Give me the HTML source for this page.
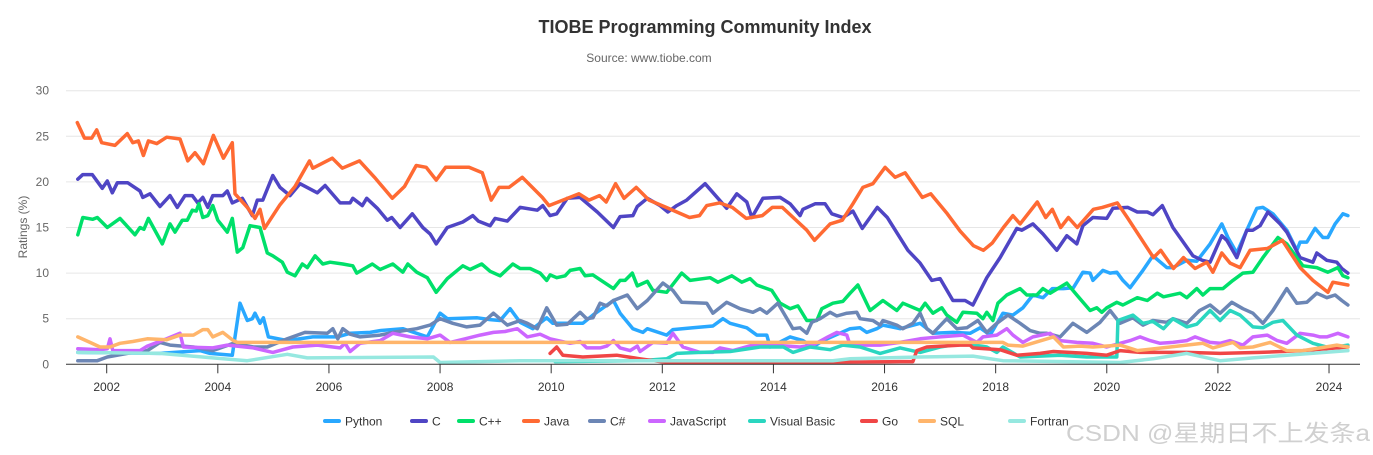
<!DOCTYPE html>
<html><head><meta charset="utf-8"><style>
html,body{margin:0;padding:0;background:#fff;}
#wrap{position:relative;width:1373px;height:455px;overflow:hidden;background:#fff;}
svg text{font-family:"Liberation Sans",Arial,sans-serif;}
</style></head><body>
<div id="wrap">
<svg id="chart" width="1373" height="455" xmlns="http://www.w3.org/2000/svg">
<text x="705" y="33" text-anchor="middle" font-size="18" font-weight="bold" fill="#333">TIOBE Programming Community Index</text>
<text x="649" y="62" text-anchor="middle" font-size="12" fill="#666">Source: www.tiobe.com</text>
<text transform="translate(27,227) rotate(-90)" text-anchor="middle" font-size="12" fill="#666">Ratings (%)</text>
<g id="grid"></g>
<g id="series"></g>
<g id="axes"></g>
<g id="legend"></g>
<text x="1066" y="441" textLength="304" lengthAdjust="spacingAndGlyphs" font-size="23" fill="#d0d0d0" style='font-family:"Liberation Sans","Noto Sans CJK SC",sans-serif'>CSDN @星期日不上发条a</text>
</svg>
</div>
<script>
const yTicks = [0,5,10,15,20,25,30];
const xTicks = [2002,2004,2006,2008,2010,2012,2014,2016,2018,2020,2022,2024];
const seriesNames = ["Python","C","C++","Java","C#","JavaScript","Visual Basic","Go","SQL","Fortran"];
const seriesColors = ["#29a8ff","#4f45c4","#00e06a","#ff6a33","#6c86b5","#cc66ff","#2ad6c0","#f04646","#ffb56b","#96e8e0"];

const python = [[2001.48,1.3],[2002.96,1.2],[2003.68,1.5],[2003.86,1.2],[2004.26,1.0],[2004.4,6.7],[2004.53,4.8],[2004.62,5.0],[2004.67,5.6],[2004.76,4.5],[2004.82,5.1],[2004.91,3],[2005.25,2.6],[2005.71,3],[2006.15,3],[2006.38,3.4],[2006.74,3.5],[2006.92,3.7],[2007.33,3.9],[2007.77,3],[2008.0,5.6],[2008.13,5],[2008.67,5.1],[2008.9,4.9],[2009.08,4.8],[2009.26,6.1],[2009.44,4.6],[2009.67,3.9],[2009.92,5.1],[2010.03,4.5],[2010.57,4.5],[2010.75,5.4],[2011.12,7],[2011.24,5.6],[2011.47,3.9],[2011.65,3.5],[2011.73,3.9],[2012.08,3.2],[2012.19,3.8],[2012.55,4],[2012.91,4.2],[2013.09,5],[2013.22,4.5],[2013.52,4],[2013.7,3.2],[2013.88,3.2],[2013.94,1.9],[2014.3,3],[2014.53,2.6],[2014.71,1.9],[2014.89,2.6],[2015.38,3.9],[2015.56,4],[2015.68,3.5],[2015.86,3.9],[2015.97,4.3],[2016.28,3.9],[2016.64,4.5],[2016.87,3.4],[2017.23,3.5],[2017.54,3.4],[2017.72,4],[2017.9,3.2],[2018.13,5.6],[2018.31,5.4],[2018.49,6.2],[2018.67,7.6],[2018.85,7.3],[2019.02,8.3],[2019.22,8.3],[2019.4,8.4],[2019.57,10.1],[2019.7,10],[2019.75,9.2],[2019.93,10.3],[2020.06,10],[2020.18,10.1],[2020.29,9.2],[2020.42,8.4],[2020.65,10.3],[2020.83,11.9],[2021.08,10.6],[2021.19,10.6],[2021.44,11.4],[2021.62,11.3],[2021.86,13.2],[2022.07,15.4],[2022.18,13.9],[2022.34,12.2],[2022.52,14.7],[2022.7,17.1],[2022.81,17.2],[2022.99,16.5],[2023.24,14.7],[2023.42,12.5],[2023.48,13.4],[2023.6,13.4],[2023.75,14.9],[2023.89,13.9],[2023.98,13.9],[2024.11,15.4],[2024.25,16.5],[2024.34,16.3]];
const cLang = [[2001.48,20.3],[2001.57,20.8],[2001.74,20.8],[2001.92,19.3],[2002.01,20.1],[2002.1,18.8],[2002.19,19.9],[2002.38,19.9],[2002.6,19],[2002.65,18.3],[2002.78,18.7],[2002.96,17.3],[2003.14,18.5],[2003.27,17.2],[2003.41,18.5],[2003.54,18.5],[2003.64,17.7],[2003.73,18.3],[2003.82,17.2],[2003.91,18.5],[2004.09,18.5],[2004.17,19],[2004.26,17.7],[2004.44,18.2],[2004.62,16.3],[2004.71,18],[2004.81,18],[2004.99,20.7],[2005.12,19.4],[2005.3,18.5],[2005.48,19.8],[2005.79,18.8],[2005.93,19.6],[2006.2,17.7],[2006.38,17.7],[2006.43,18.2],[2006.6,17.4],[2006.68,18.2],[2006.87,17.1],[2007.05,15.8],[2007.13,16.1],[2007.28,15],[2007.5,16.5],[2007.69,15],[2007.82,14.3],[2007.93,13.2],[2008.13,15],[2008.41,15.6],[2008.59,16.3],[2008.69,15.7],[2008.9,15.2],[2008.99,16],[2009.21,15.7],[2009.44,17.2],[2009.75,16.9],[2009.85,17.4],[2009.98,16.3],[2010.1,16.5],[2010.29,18.2],[2010.52,18.3],[2010.83,16.7],[2011.12,15],[2011.24,16.2],[2011.47,16.3],[2011.55,17.3],[2011.73,18.2],[2011.96,17.4],[2012.1,16.7],[2012.26,17.4],[2012.44,18],[2012.77,19.8],[2013.16,17.1],[2013.34,18.7],[2013.52,17.8],[2013.61,16.1],[2013.81,18.2],[2014.12,18.3],[2014.3,17.6],[2014.48,16.3],[2014.53,17],[2014.75,17.6],[2014.93,17.6],[2015.05,16.5],[2015.25,16.1],[2015.43,16.8],[2015.6,14.9],[2015.87,17.2],[2016.05,16.1],[2016.42,12.5],[2016.64,11.1],[2016.85,9.2],[2017.0,9.4],[2017.23,7],[2017.45,7],[2017.59,6.5],[2017.84,9.5],[2018.08,11.7],[2018.38,14.9],[2018.47,14.7],[2018.67,15.4],[2018.85,14.3],[2019.1,12.5],[2019.28,14.1],[2019.46,13.2],[2019.57,15.2],[2019.75,16.1],[2020.0,16],[2020.11,17.1],[2020.38,17.2],[2020.55,16.7],[2020.73,16.7],[2020.83,16.4],[2021.0,17.4],[2021.19,15],[2021.55,11.9],[2021.72,11.4],[2021.86,11.2],[2022.07,14.1],[2022.16,13.6],[2022.34,11.7],[2022.52,14.7],[2022.63,14.7],[2022.76,15.2],[2022.9,16.7],[2023.12,15.4],[2023.24,14.5],[2023.48,11.7],[2023.71,11.2],[2023.78,12.2],[2023.96,11.4],[2024.14,11.2],[2024.23,10.5],[2024.34,10]];
const cpp = [[2001.48,14.2],[2001.57,16.1],[2001.75,15.9],[2001.83,16.1],[2002.01,15],[2002.24,16],[2002.51,14.2],[2002.6,15],[2002.67,14.8],[2002.75,16],[2003.0,13.2],[2003.14,15.4],[2003.23,14.5],[2003.36,15.8],[2003.45,15.8],[2003.54,16.9],[2003.61,16.8],[2003.66,17.6],[2003.73,16.1],[2003.82,16.3],[2003.91,17.4],[2004.0,15.8],[2004.17,14.5],[2004.26,16],[2004.35,12.3],[2004.45,12.8],[2004.58,15.2],[2004.76,15],[2004.89,12.2],[2004.99,11.9],[2005.16,11.2],[2005.25,10.1],[2005.39,9.7],[2005.52,11],[2005.61,10.6],[2005.75,11.9],[2005.89,11],[2006.02,11.2],[2006.25,11],[2006.43,10.8],[2006.5,10],[2006.78,11],[2006.92,10.4],[2007.15,11],[2007.33,10.1],[2007.42,11],[2007.58,10.1],[2007.77,9.5],[2007.93,7.9],[2008.13,9.4],[2008.41,10.8],[2008.54,10.4],[2008.75,11],[2008.9,10.2],[2009.08,9.7],[2009.31,11],[2009.44,10.5],[2009.62,10.5],[2009.8,10],[2009.92,9.2],[2009.98,9.8],[2010.1,9.5],[2010.25,9.7],[2010.34,10.3],[2010.52,10.5],[2010.61,9.7],[2010.75,9.8],[2011.12,8.3],[2011.24,9.2],[2011.33,9.2],[2011.46,10],[2011.55,8.6],[2011.73,9.1],[2011.83,8.1],[2012.08,7.9],[2012.35,10],[2012.5,9.2],[2012.86,9.5],[2013.0,9],[2013.25,9.7],[2013.43,9],[2013.58,9.4],[2013.7,8.7],[2013.97,8.1],[2014.12,6.7],[2014.3,6.1],[2014.44,6.4],[2014.6,4.8],[2014.78,4.8],[2014.87,6.1],[2015.07,6.7],[2015.25,6.9],[2015.38,7.8],[2015.52,8.7],[2015.74,5.9],[2015.97,7],[2016.22,5.9],[2016.33,6.7],[2016.64,5.9],[2016.73,6.7],[2016.87,5.6],[2017.03,6.2],[2017.12,5.4],[2017.3,4.6],[2017.41,5.7],[2017.66,5.6],[2017.77,5],[2017.84,5.7],[2017.95,4.8],[2018.04,6.7],[2018.2,7.6],[2018.44,8.3],[2018.56,7.6],[2018.74,7.6],[2018.85,8.3],[2018.98,7.8],[2019.28,8.9],[2019.46,7.6],[2019.7,5.9],[2019.82,6.2],[2019.91,5.7],[2020.0,6.2],[2020.18,6.8],[2020.29,6.5],[2020.55,7.3],[2020.73,7],[2020.91,7.8],[2021.02,7.4],[2021.32,7.8],[2021.44,7.3],[2021.62,8.3],[2021.73,7.6],[2021.86,8.3],[2022.09,8.3],[2022.27,9.2],[2022.45,10],[2022.63,10.1],[2022.81,11.7],[2023.08,13.9],[2023.24,13.2],[2023.42,11.7],[2023.53,10.8],[2023.78,10.6],[2023.98,10.1],[2024.16,10.6],[2024.25,9.7],[2024.34,9.5]];
const java = [[2001.47,26.5],[2001.6,24.8],[2001.73,24.8],[2001.82,25.7],[2001.91,24.3],[2002.15,24],[2002.37,25.3],[2002.47,24.3],[2002.57,24.5],[2002.66,22.9],[2002.75,24.5],[2002.9,24.2],[2003.08,24.9],[2003.32,24.7],[2003.46,22.3],[2003.59,23.2],[2003.74,22],[2003.92,25.1],[2004.1,22.6],[2004.26,24.3],[2004.31,18.7],[2004.53,17.2],[2004.67,16],[2004.76,17],[2004.84,14.9],[2005.12,17.5],[2005.39,19.5],[2005.65,22.3],[2005.71,21.5],[2006.06,22.6],[2006.24,21.5],[2006.55,22.3],[2006.82,20.5],[2007.14,18.2],[2007.36,19.5],[2007.57,21.8],[2007.75,21.6],[2007.93,20.2],[2008.1,21.6],[2008.52,21.6],[2008.76,21],[2008.92,18],[2009.06,19.4],[2009.24,19.4],[2009.48,20.5],[2009.84,18.3],[2009.96,17.4],[2010.5,18.7],[2010.68,18],[2010.87,18.5],[2010.99,17.8],[2011.16,19.8],[2011.31,18.2],[2011.53,19.4],[2011.76,18],[2012.07,17.2],[2012.49,16.1],[2012.67,16.3],[2012.8,17.4],[2013.03,17.7],[2013.26,17.2],[2013.51,16],[2013.8,16.3],[2013.98,17.2],[2014.16,17.2],[2014.6,14.7],[2014.74,13.6],[2015.02,15.4],[2015.24,15.8],[2015.43,17.6],[2015.61,19.4],[2015.79,19.8],[2016.01,21.6],[2016.19,20.5],[2016.37,21],[2016.68,18.3],[2016.83,18.7],[2017.13,16.5],[2017.36,14.6],[2017.6,13],[2017.78,12.5],[2017.94,13.3],[2018.14,15],[2018.31,16.3],[2018.44,15.4],[2018.75,17.8],[2018.9,16.1],[2019.02,17],[2019.17,15],[2019.31,16.1],[2019.47,15],[2019.76,17],[2019.92,17.2],[2020.19,17.7],[2020.37,16.1],[2020.84,11.7],[2020.97,12.5],[2021.2,10.5],[2021.38,11.7],[2021.59,10.5],[2021.8,11.2],[2021.91,10.1],[2022.07,12.2],[2022.22,11.1],[2022.4,10.6],[2022.58,12.5],[2022.89,12.7],[2023.16,13.6],[2023.48,10.6],[2023.71,9.2],[2023.98,7.9],[2024.07,9],[2024.34,8.7]];
const csharp = [[2001.48,0.4],[2001.83,0.4],[2002.01,0.8],[2002.37,1.2],[2002.73,1.5],[2002.96,2.4],[2003.14,2.1],[2003.56,1.9],[2003.91,1.5],[2004.28,2.3],[2004.64,1.9],[2004.89,1.9],[2005.25,2.8],[2005.57,3.5],[2005.97,3.4],[2006.07,3.9],[2006.16,2.8],[2006.25,3.9],[2006.38,3.3],[2006.56,3],[2006.92,3.2],[2007.15,3.5],[2007.58,3.9],[2007.82,4.3],[2008.0,5],[2008.23,4.5],[2008.48,4.1],[2008.72,4.3],[2008.96,5.6],[2009.21,4.3],[2009.44,4.8],[2009.57,4.5],[2009.75,3.9],[2009.92,6.2],[2010.1,4.3],[2010.29,4.4],[2010.52,5.7],[2010.64,5],[2010.75,5.1],[2010.88,6.7],[2011.0,6.4],[2011.12,7],[2011.37,7.6],[2011.55,6.1],[2011.73,7],[2012.01,8.9],[2012.19,8.1],[2012.35,6.8],[2012.8,6.7],[2012.91,5.6],[2013.16,6.8],[2013.4,6.1],[2013.63,5.7],[2013.76,6.1],[2013.88,5.6],[2014.08,6.7],[2014.35,3.9],[2014.48,4],[2014.6,3.4],[2014.69,4.6],[2014.84,5],[2015.02,5.7],[2015.14,5.3],[2015.32,5.6],[2015.5,5.7],[2015.56,5],[2015.79,4.8],[2015.92,4.3],[2015.97,4.8],[2016.22,4.3],[2016.33,3.9],[2016.51,4.5],[2016.64,5.6],[2016.76,3.9],[2016.87,3.4],[2017.12,5],[2017.3,3.9],[2017.48,4],[2017.68,4.8],[2017.84,3.5],[2018.02,4.5],[2018.22,5.4],[2018.44,4.5],[2018.62,3.7],[2018.8,3.4],[2018.92,3.4],[2019.16,3],[2019.39,4.5],[2019.64,3.5],[2019.88,4.6],[2020.06,5.9],[2020.24,4.5],[2020.47,5.1],[2020.65,4.3],[2020.83,4.8],[2021.08,4.6],[2021.19,5],[2021.44,4.5],[2021.67,5.9],[2021.86,6.5],[2022.04,5.6],[2022.25,6.8],[2022.45,6.1],[2022.63,5.6],[2022.81,4.5],[2022.99,5.9],[2023.24,8.3],[2023.42,6.7],[2023.6,6.8],[2023.78,7.8],[2023.96,7.3],[2024.11,7.6],[2024.23,7],[2024.34,6.5]];
const javascript = [[2001.48,1.7],[2001.88,1.6],[2002.01,1.7],[2002.06,2.8],[2002.11,1.5],[2002.6,1.5],[2002.73,2],[2003.08,2.8],[2003.32,3.4],[2003.38,1.9],[2003.91,1.8],[2004.17,2.1],[2004.64,1.8],[2004.99,1.3],[2005.35,1.9],[2005.79,2.1],[2006.2,1.8],[2006.29,2.3],[2006.38,1.4],[2006.56,2.3],[2006.92,2.6],[2007.15,3.4],[2007.46,3],[2007.77,2.8],[2008.0,3.2],[2008.18,2.4],[2008.45,2.8],[2008.72,3.2],[2008.96,3.5],[2009.17,3.6],[2009.39,3.9],[2009.57,3],[2009.8,3.3],[2009.98,2.8],[2010.34,2.3],[2010.52,2.5],[2010.64,1.8],[2010.88,1.8],[2011.0,2.0],[2011.12,2.6],[2011.24,1.8],[2011.42,1.5],[2011.55,2.0],[2011.6,1.4],[2011.83,2.4],[2012.08,2.3],[2012.19,3.4],[2012.37,1.9],[2012.68,1.3],[2012.91,1.3],[2013.04,1.8],[2013.27,1.5],[2013.63,2.1],[2014.0,2.1],[2014.48,1.9],[2014.71,2.1],[2014.98,3],[2015.14,3.5],[2015.32,3.2],[2015.38,2.1],[2015.92,2.1],[2016.28,2.4],[2016.64,2.8],[2017.0,3],[2017.41,3.2],[2017.66,2.4],[2017.77,3],[2018.02,3.2],[2018.2,3.9],[2018.31,3.2],[2018.49,2.4],[2018.67,3],[2018.98,3.4],[2019.16,2.6],[2019.46,2.4],[2019.75,2.3],[2020.0,1.9],[2020.24,2.3],[2020.42,2.6],[2020.6,3],[2020.78,2.6],[2020.96,2.3],[2021.19,2.4],[2021.44,2.6],[2021.59,3],[2021.86,2.4],[2022.04,2.3],[2022.22,2.6],[2022.45,2.1],[2022.63,3],[2022.89,3.2],[2023.07,2.6],[2023.24,2.3],[2023.48,3.4],[2023.71,3.2],[2023.84,3],[2023.96,3],[2024.16,3.4],[2024.34,3]];
const visualBasic = [[2010.07,0.3],[2011.6,0.4],[2012.08,0.6],[2012.26,1.2],[2012.68,1.3],[2013.22,1.4],[2013.76,1.9],[2014.18,1.9],[2014.35,1.3],[2014.66,1.9],[2015.02,1.6],[2015.25,2.1],[2015.56,1.9],[2015.92,1.2],[2016.28,1.8],[2016.64,1.3],[2017.0,1.9],[2017.41,2.3],[2017.84,1.9],[2018.02,1.3],[2018.13,1.9],[2018.44,0.8],[2019.16,1.0],[2019.64,0.8],[2020.18,0.8],[2020.2,4.8],[2020.47,5.4],[2020.65,4.5],[2020.83,4.7],[2021.02,3.9],[2021.19,5],[2021.44,4.1],[2021.62,4.4],[2021.86,5.9],[2022.04,4.8],[2022.22,5.9],[2022.4,5.4],[2022.63,4.1],[2022.81,4],[2022.99,4.6],[2023.17,4.8],[2023.42,3.2],[2023.71,2.3],[2024.02,1.8],[2024.34,2.1]];
const goLang = [[2009.98,1.2],[2010.1,1.9],[2010.21,1.0],[2010.57,0.8],[2011.18,1.0],[2011.6,0.6],[2012.08,0.2],[2014.48,0.2],[2016.28,0.3],[2016.51,0.3],[2016.58,1.5],[2016.76,1.9],[2017.36,2.1],[2017.54,2.1],[2017.59,1.8],[2018.08,1.6],[2018.38,1],[2018.8,1.2],[2019.04,1.4],[2019.64,1.2],[2020.0,1.0],[2020.24,1.5],[2020.6,1.3],[2021.44,1.3],[2022.04,1.2],[2022.76,1.3],[2023.53,1.5],[2024.34,1.9]];
const sql = [[2001.48,3],[2001.7,2.4],[2001.88,1.9],[2002.06,1.9],[2002.24,2.3],[2002.47,2.5],[2002.73,2.8],[2003.08,2.7],[2003.32,3.2],[2003.56,3.2],[2003.73,3.8],[2003.82,3.8],[2003.91,3],[2004.09,3.5],[2004.28,2.6],[2004.35,2.4],[2018.13,2.4],[2018.22,2.1],[2018.49,2],[2019.04,3],[2019.22,1.9],[2019.52,2.0],[2019.75,1.9],[2020.24,2.1],[2020.55,1.5],[2021.14,1.9],[2021.73,2.3],[2021.91,1.8],[2022.27,2.4],[2022.4,1.8],[2022.63,1.9],[2022.94,2.4],[2023.24,1.5],[2023.53,1.5],[2023.84,1.8],[2024.14,2.1],[2024.34,1.9]];
const fortran = [[2001.48,1.3],[2002.96,1.2],[2003.91,0.7],[2004.53,0.4],[2005.25,1.1],[2005.61,0.7],[2007.88,0.8],[2008.0,0.2],[2009.44,0.4],[2015.07,0.4],[2015.38,0.6],[2016.64,0.8],[2017.59,0.9],[2018.13,0.4],[2020.24,0.2],[2020.83,0.6],[2021.44,1.2],[2022.04,0.4],[2022.63,0.7],[2023.24,1.0],[2024.34,1.5]];
const seriesData = [python,cLang,cpp,java,csharp,javascript,visualBasic,goLang,sql,fortran];

const NS = "http://www.w3.org/2000/svg";
const plotLeft = 66, plotRight = 1360, plotTop = 90.7, plotBottom = 364.3;
function xScale(t){ return 106.7 + (t - 2002) * 55.56; }
function yScale(v){ return plotBottom - (v / 30) * (plotBottom - plotTop); }
function mk(tag, attrs, parent){ const e = document.createElementNS(NS, tag); for (const k in attrs) e.setAttribute(k, attrs[k]); parent.appendChild(e); return e; }

const grid = document.getElementById('grid');
const axes = document.getElementById('axes');
yTicks.forEach(v => {
  const y = yScale(v);
  if (v > 0) {
    const gl = mk('line', {x1: plotLeft, x2: plotRight, y1: y, y2: y, stroke: '#e6e6e6', 'stroke-width': 1}, grid);
    
    
  }
  const t = mk('text', {x: 49, y: y + 4, 'text-anchor': 'end', 'font-size': 12, fill: '#666'}, axes);
  t.textContent = v;
  
  
});
const axisLine = mk('line', {x1: plotLeft, x2: plotRight, y1: plotBottom, y2: plotBottom, stroke: '#333', 'stroke-width': 1}, axes);


xTicks.forEach(yr => {
  const x = xScale(yr);
  const tk = mk('line', {x1: x, x2: x, y1: plotBottom, y2: plotBottom + 9, stroke: '#333', 'stroke-width': 1}, axes);
  
  
  const t = mk('text', {x: x, y: 391, 'text-anchor': 'middle', 'font-size': 12, fill: '#333'}, axes);
  t.textContent = yr;
  
  
});

const sg = document.getElementById('series');
seriesData.forEach((pts, i) => {
  const d = pts.map((p, j) => (j ? 'L' : 'M') + xScale(p[0]).toFixed(1) + ' ' + yScale(p[1]).toFixed(1)).join(' ');
  const path = mk('path', {d: d, fill: 'none', stroke: seriesColors[i], 'stroke-width': 3.5, 'stroke-linejoin': 'round', 'stroke-linecap': 'round'}, sg);
  
  
});

const legend = document.getElementById('legend');
const legendX = [325, 412, 459, 524, 590, 650, 750, 862, 920, 1010];
seriesNames.forEach((n, i) => {
  const g = mk('g', {}, legend);
  
  
  mk('line', {x1: legendX[i], x2: legendX[i] + 14, y1: 421, y2: 421, stroke: seriesColors[i], 'stroke-width': 4, 'stroke-linecap': 'round'}, g);
  const t = mk('text', {x: legendX[i] + 20, y: 425.5, 'font-size': 12, fill: '#333'}, g);
  t.textContent = n;
});
</script>
</body></html>
